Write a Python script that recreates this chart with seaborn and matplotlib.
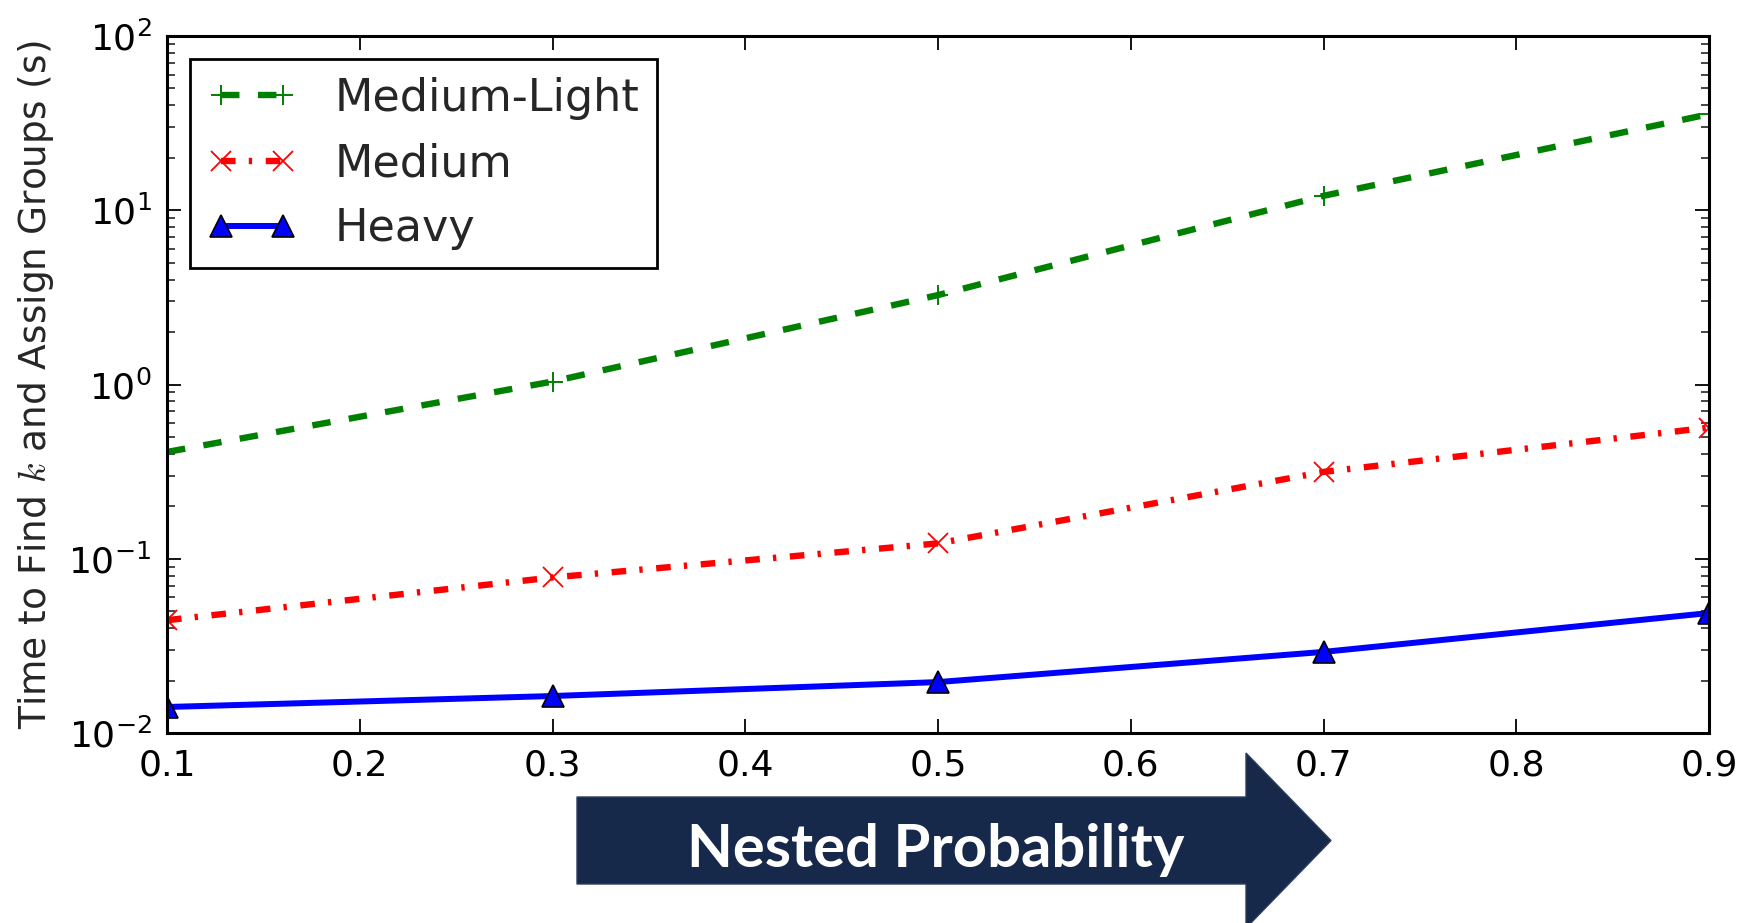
import matplotlib
matplotlib.use("Agg")
import matplotlib.pyplot as plt
import seaborn as sns
from matplotlib.patches import Polygon

# probabilidad anidada (eje x)
nested_prob = [0.1, 0.3, 0.5, 0.7, 0.9]
x_ticks = [0.1, 0.2, 0.3, 0.4, 0.5, 0.6, 0.7, 0.8, 0.9]

# tiempos (s)
medium_light = [0.41, 1.04, 3.26, 12.1, 35.6]
medium = [0.0444, 0.0781, 0.1225, 0.315, 0.566]
heavy = [0.0141, 0.0163, 0.0196, 0.0292, 0.0488]

series_names = ["Medium-Light", "Medium", "Heavy"]

sns.set_style("ticks")
plt.rcParams["font.family"] = ["DejaVu Sans"]
plt.rcParams["mathtext.fontset"] = "cm"
plt.rcParams["lines.scale_dashes"] = False

fig = plt.figure(figsize=(17.41, 9.23), dpi=100)
ax = fig.add_axes([167 / 1741, 1 - 733 / 923, 1542 / 1741, 697 / 923])

# Medium-Light: verde discontinua con +
sns.lineplot(x=nested_prob, y=medium_light, ax=ax, errorbar=None,
             color="#008000", linestyle=(0, (13.3, 13.3)), linewidth=4.6,
             marker="+", markersize=14, markeredgewidth=1.4,
             markeredgecolor="#008000", label=series_names[0])

# Medium: roja punto-raya con x
sns.lineplot(x=nested_prob, y=medium, ax=ax, errorbar=None,
             color="#ff0000", linestyle=(0, (10.5, 9.5, 2.4, 9.8)), linewidth=4.6,
             marker="x", markersize=14, markeredgewidth=1.3,
             markeredgecolor="#ff0000", label=series_names[1])

# Heavy: azul continua con triangulos
sns.lineplot(x=nested_prob, y=heavy, ax=ax, errorbar=None,
             color="#0000ff", linestyle="-", linewidth=4.3,
             marker="^", markersize=16, markeredgewidth=1.2,
             markeredgecolor="black", markerfacecolor="#0000ff",
             label=series_names[2])

ax.set_yscale("log")
ax.set_ylim(1e-2, 1e2)
ax.set_xlim(0.1, 0.9)
ax.set_xticks(x_ticks)
ax.set_xticklabels([f"{t:.1f}" for t in x_ticks])
ax.set_xlabel("")
ax.set_ylabel("Time to Find $k$ and Assign Groups (s)", fontsize=27)
ax.yaxis.set_label_coords(-0.072, 0.5)

ax.tick_params(which="major", direction="in", length=10, width=1.3,
               top=True, right=True, labelsize=26, pad=11, colors="black")
ax.tick_params(which="minor", direction="in", length=6, width=1.2,
               top=False, right=True)
ax.tick_params(axis="x", which="minor", bottom=False, top=False)
for sp in ax.spines.values():
    sp.set_linewidth(2.2)
    sp.set_color("black")

leg = ax.legend(loc="upper left", numpoints=2, handlelength=2.0,
                handletextpad=0.85, borderpad=0.4, borderaxespad=0.52,
                labelspacing=0.5, fontsize=32, fancybox=False,
                framealpha=1, edgecolor="black")
leg.get_frame().set_linewidth(2)

# flecha "Nested Probability" bajo el eje x
W, H = 1741, 923
pts = [(577, 797), (1246, 797), (1246, 753), (1331, 840.5),
       (1246, 928), (1246, 884), (577, 884)]
arrow = Polygon([(px / W, 1 - py / H) for px, py in pts], closed=True,
                transform=fig.transFigure, facecolor="#17294a",
                edgecolor="#2c3d5c", linewidth=1, zorder=0)
fig.patches.append(arrow)
fig.text(936 / W, 1 - 867 / H, "Nested Probability", color="white",
         fontsize=43, fontweight="bold", family=["Lato", "DejaVu Sans"],
         ha="center", va="baseline")

fig.savefig("out.png", dpi=100)
